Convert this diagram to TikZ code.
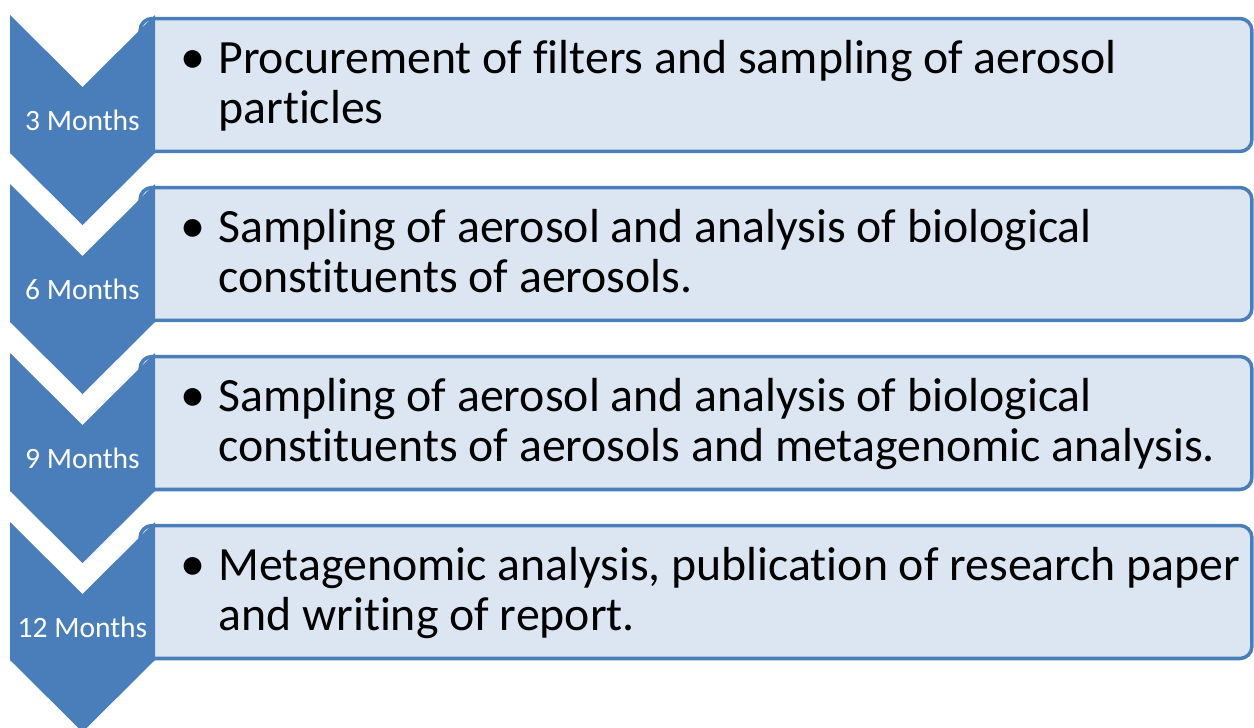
\documentclass[tikz,border=0pt]{standalone}
\usepackage{fontspec}
\setmainfont[Ligatures=NoCommon]{Carlito}
\usepackage{xcolor}

\definecolor{chevblue}{HTML}{4A7EBB}
\definecolor{boxfill}{HTML}{DCE6F2}

\begin{document}
\begin{tikzpicture}[x=0.02cm,y=-0.02cm]
    \tikzstyle{B}=[rectangle,draw=chevblue,line width=2pt,fill=boxfill,
        rounded corners=0.24cm,minimum width=22.24cm,minimum height=2.66cm]
    \tikzstyle{M}=[text=white,font=\fontsize{16.8}{20}\selectfont,anchor=base]
    \tikzstyle{T}=[font=\fontsize{27.2}{33}\selectfont,anchor=base west,inner sep=0pt]

    \useasboundingbox (0,0) rectangle (1254,727);
    \clip (0,0) rectangle (1254,727);

    % one step per row: top of chevron / months / two text lines
    \foreach \t/\m/\la/\lb [count=\i] in {
        15/3 Months/{Procurement of filters and sampling of aerosol}/{particles},
        184/6 Months/{Sampling of aerosol and analysis of biological}/{constituents of aerosols.},
        353/9 Months/{Sampling of aerosol and analysis of biological}/{constituents of aerosols and metagenomic analysis.},
        522/12 Months/{Metagenomic analysis, publication of research paper}/{and writing of report.}}
    {
        % box first, the chevron hides its left end
        \node [B] (box\i) at (696,\t+70) {};
        \fill [chevblue] (10,\t) -- (82.5,\t+72) -- (155,\t) -- (155,\t+138)
            -- (82.5,\t+210) -- (10,\t+138) -- cycle;
        \node [M] (month\i) at (82.5,\t+115) {\m};

        \node [T,anchor=base,scale=1.05] (dot\i) at (193,\t+58) {\textbullet};
        \node [T] (first\i) at (218,\t+58) {\la};
        \node [T] (second\i) at (218,\t+108) {\lb};
    }
\end{tikzpicture}
\end{document}
